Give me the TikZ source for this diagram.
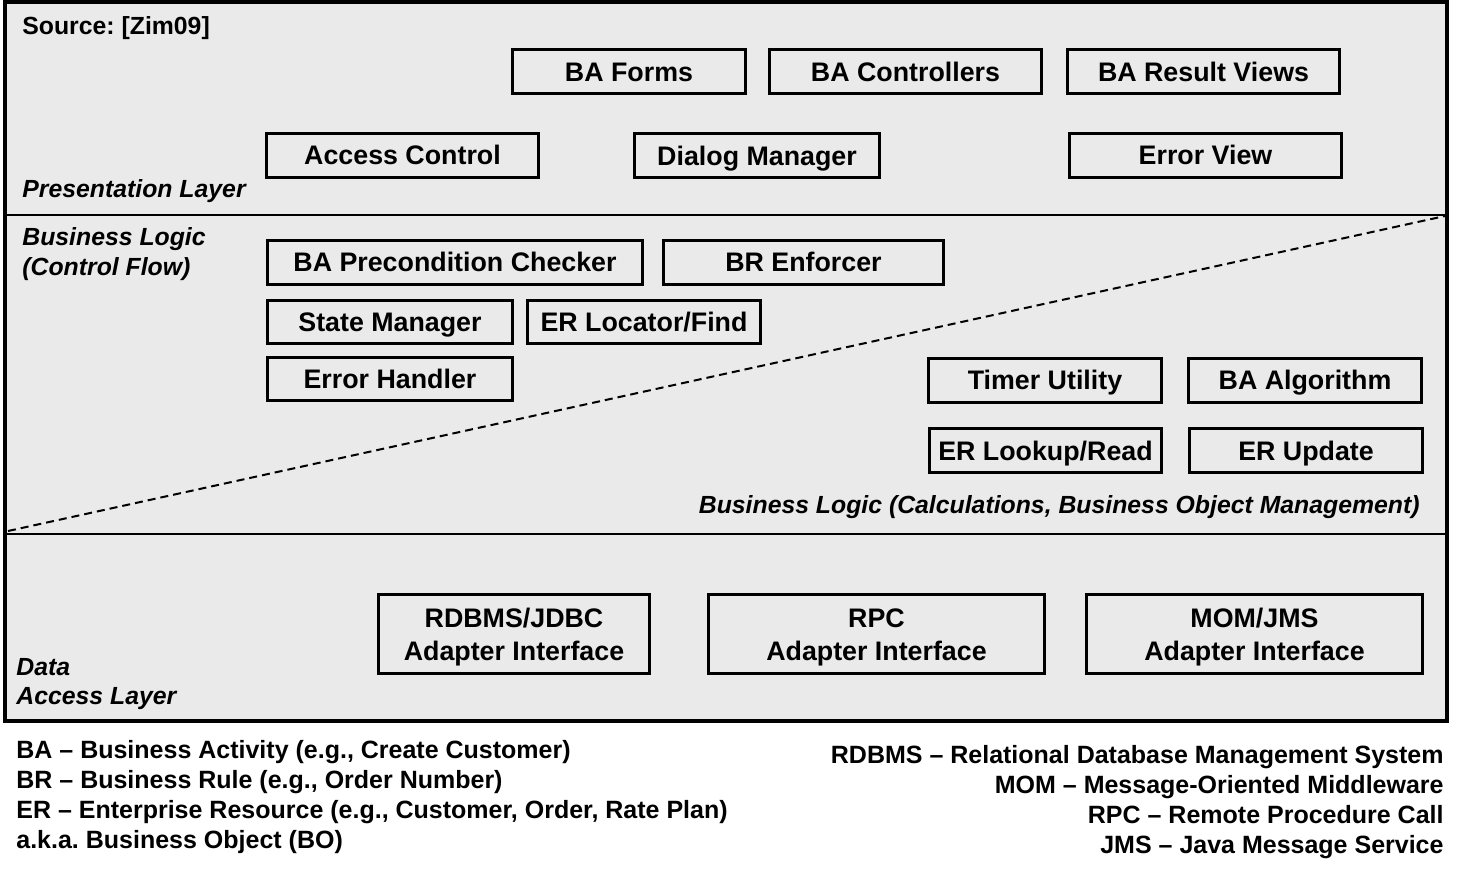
\documentclass[tikz,border=0pt]{standalone}
\usepackage{fontspec}
\setmainfont{Liberation Sans}
\definecolor{layergray}{HTML}{EAEAEA}
\frenchspacing

\begin{document}
\begin{tikzpicture}[x=0.5pt, y=-0.5pt]
        \tikzstyle{every node}=[inner sep=0pt]
        \tikzstyle{comp}=[draw, line width=1.5pt, fill=layergray, align=center,
          minimum height=22pt, text height=9.6pt, text depth=0pt,
          font=\bfseries\fontsize{13.4}{16.5}\selectfont]
        \tikzstyle{adapter}=[comp, minimum height=39.5pt, text height=26.1pt]
        \tikzstyle{layer}=[anchor=base west, align=left,
          font=\bfseries\itshape\fontsize{12.4}{15}\selectfont]
        \tikzstyle{legend}=[font=\bfseries\fontsize{12.5}{15}\selectfont]

        \useasboundingbox (0,0) rectangle (1468,875);
        \draw [line width=2pt, fill=layergray] (5,2) rectangle (1447,721);

        % layer borders
        \coordinate (presL) at (5,215);
        \coordinate (presR) at (1447,215);
        \coordinate (dataL) at (5,534);
        \coordinate (dataR) at (1447,534);
        \coordinate (splitL) at (8,531);
        \coordinate (splitR) at (1445,216);
        \draw [line width=1.2pt] (presL) -- (presR) (dataL) -- (dataR);
        \draw [line width=1pt, dash pattern=on 4pt off 2.5pt] (splitL) -- (splitR);

        \path (22,34) node [anchor=base west, font=\bfseries\fontsize{12.4}{15}\selectfont] (src) {Source: [Zim09]};

        % presentation layer
        \path (629,71.5) node [comp, minimum width=116.5pt] (forms) {BA Forms};
        \path (905.5,71.5) node [comp, minimum width=136pt] (ctrl) {BA Controllers};
        \path (1203.5,71.5) node [comp, minimum width=136pt] (views) {BA Result Views};
        \path (402.5,155) node [comp, minimum width=136pt] (access) {Access Control};
        \path (757,155.5) node [comp, minimum width=122.5pt] (dialog) {Dialog Manager};
        \path (1205.5,155) node [comp, minimum width=136pt] (errview) {Error View};
        \path (22,197) node [layer] (pres) {Presentation Layer};

        % business logic
        \path (22,275) node [layer] (ctlflow) {Business Logic\\(Control Flow)};
        \path (455,262) node [comp, minimum width=187.5pt] (precond) {BA Precondition Checker};
        \path (803.5,262) node [comp, minimum width=140pt] (enforcer) {BR Enforcer};
        \path (390,322) node [comp, minimum width=122.5pt, minimum height=21.5pt] (state) {State Manager};
        \path (644,322) node [comp, minimum width=116.5pt, minimum height=21.5pt] (locator) {ER Locator/Find};
        \path (390,379) node [comp, minimum width=122.5pt, minimum height=21.5pt] (errhandler) {Error Handler};
        \path (1045,380) node [comp, minimum width=116.5pt] (timer) {Timer Utility};
        \path (1305,380) node [comp, minimum width=116.5pt] (algo) {BA Algorithm};
        \path (1045.5,450.5) node [comp, minimum width=116pt] (lookup) {ER Lookup/Read};
        \path (1306,450.5) node [comp, minimum width=116.5pt] (update) {ER Update};
        \path (1420,513) node [layer, anchor=base east] (calc) {Business Logic (Calculations, Business Object Management)};

        % data access layer
        \path (514,634) node [adapter, minimum width=135.5pt] (jdbc) {RDBMS/JDBC\\Adapter Interface};
        \path (876.5,634) node [adapter, minimum width=168pt] (rpc) {RPC\\Adapter Interface};
        \path (1254.5,634) node [adapter, minimum width=168pt] (jms) {MOM/JMS\\Adapter Interface};
        \path (16,704) node [layer] (data) {Data\\[-0.5pt]Access Layer};

        % abbreviations
        \foreach \t [count=\i from 0] in {{BA – Business Activity (e.g., Create Customer)},
          {BR – Business Rule (e.g., Order Number)},
          {ER – Enterprise Resource (e.g., Customer, Order, Rate Plan)},
          {a.k.a. Business Object (BO)}}
        {
          \path (16,758+\i*30) node [legend, anchor=base west] (abbl\i) {\t};
        }
        \foreach \t [count=\i from 0] in {{RDBMS – Relational Database Management System},
          {MOM – Message-Oriented Middleware},
          {RPC – Remote Procedure Call},
          {JMS – Java Message Service}}
        {
          \path (1444,763+\i*30) node [legend, anchor=base east] (abbr\i) {\t};
        }
      \end{tikzpicture}
\end{document}
